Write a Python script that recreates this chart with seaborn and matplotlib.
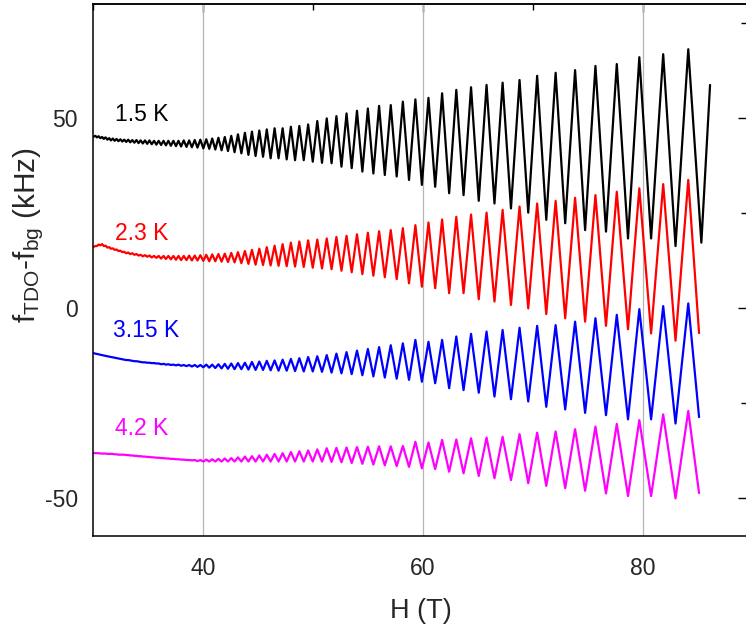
import matplotlib
matplotlib.use("Agg")
import matplotlib.pyplot as plt
from matplotlib.ticker import MultipleLocator
import pandas as pd
import seaborn as sns

# fields (T) of the oscillation minima / maxima, same phase for every trace
h_dips = [
    30.06, 30.36, 30.67, 30.98, 31.31, 31.63, 31.97, 32.31, 32.66, 33.02,
    33.38, 33.76, 34.14, 34.53, 34.93, 35.34, 35.76, 36.19, 36.63, 37.08,
    37.54, 38.01, 38.50, 38.99, 39.50, 40.03, 40.57, 41.12, 41.69, 42.27,
    42.87, 43.49, 44.13, 44.78, 45.46, 46.15, 46.87, 47.61, 48.37, 49.16,
    49.98, 50.82, 51.69, 52.59, 53.52, 54.49, 55.49, 56.53, 57.61, 58.73,
    59.90, 61.11, 62.38, 63.69, 65.07, 66.50, 68.00, 69.57, 71.21, 72.93,
    74.74, 76.64, 78.64, 80.74, 82.96,
]
h_peaks = [
    30.21, 30.51, 30.83, 31.14, 31.47, 31.80, 32.14, 32.49, 32.84, 33.20,
    33.57, 33.95, 34.33, 34.73, 35.13, 35.55, 35.97, 36.41, 36.85, 37.31,
    37.77, 38.25, 38.74, 39.25, 39.76, 40.30, 40.84, 41.40, 41.98, 42.57,
    43.18, 43.81, 44.45, 45.12, 45.80, 46.51, 47.24, 47.99, 48.76, 49.56,
    50.39, 51.25, 52.13, 53.05, 54.00, 54.99, 56.01, 57.07, 58.17, 59.31,
    60.50, 61.74, 63.03, 64.37, 65.78, 67.24, 68.78, 70.38, 72.06, 73.83,
    75.68, 77.62, 79.67, 81.84, 84.12,
]

temps = ["1.5 K", "2.3 K", "3.15 K", "4.2 K"]
colors = ["#000000", "#ff0000", "#0000ff", "#ff00ff"]

# 1.5 K
peaks_15 = [
    45.3, 45.2, 45.0, 44.9, 44.7, 44.6, 44.5, 44.4, 44.3, 44.3,
    44.2, 44.2, 44.1, 44.1, 44.1, 44.0, 44.0, 44.0, 44.0, 44.0,
    44.0, 44.1, 44.1, 44.2, 44.3, 44.4, 44.6, 44.8, 45.0, 45.3,
    45.7, 46.1, 46.4, 46.7, 47.0, 47.3, 47.3, 47.7, 47.9, 48.3,
    49.2, 49.9, 50.5, 51.2, 51.9, 52.5, 53.2, 53.4, 54.3, 54.9,
    55.3, 56.5, 57.4, 58.1, 58.7, 59.3, 60.0, 61.1, 61.9, 62.6,
    63.7, 64.2, 66.0, 66.8, 68.1,
]
dips_15 = [
    45.1, 44.9, 44.7, 44.5, 44.3, 44.1, 44.0, 43.9, 43.8, 43.7,
    43.6, 43.5, 43.4, 43.3, 43.2, 43.1, 43.0, 42.9, 42.8, 42.7,
    42.6, 42.5, 42.4, 42.3, 42.2, 42.0, 41.9, 41.7, 41.5, 41.3,
    41.0, 40.7, 40.3, 40.0, 39.8, 39.4, 39.4, 39.1, 38.9, 38.9,
    38.5, 38.2, 38.1, 37.2, 36.8, 35.9, 35.4, 35.0, 34.6, 33.7,
    32.4, 31.9, 30.2, 29.7, 28.2, 27.5, 26.2, 25.1, 23.2, 22.3,
    20.5, 20.1, 18.3, 18.3, 16.3,
]
tail_h_15 = [85.31, 86.1]
tail_f_15 = [17.2, 58.7]

# 2.3 K
peaks_23 = [
    16.3, 16.7, 16.8, 16.4, 16.0, 15.7, 15.4, 15.1, 14.8, 14.6,
    14.4, 14.2, 14.0, 13.9, 13.8, 13.7, 13.7, 13.7, 13.7, 13.7,
    13.7, 13.7, 13.8, 13.8, 13.9, 14.0, 14.1, 14.2, 14.3, 14.5,
    14.7, 15.0, 15.3, 15.6, 16.0, 16.4, 16.8, 17.2, 17.5, 17.8,
    18.0, 18.3, 18.7, 19.0, 19.4, 19.8, 20.2, 20.5, 21.0, 21.8,
    22.5, 23.3, 24.0, 24.6, 25.1, 25.8, 26.7, 27.5, 28.2, 29.0,
    29.7, 30.6, 31.5, 32.6, 33.7,
]
dips_23 = [
    16.1, 16.3, 16.5, 16.3, 15.9, 15.6, 15.3, 15.0, 14.7, 14.4,
    14.2, 14.0, 13.8, 13.6, 13.5, 13.3, 13.2, 13.0, 12.9, 12.8,
    12.7, 12.6, 12.6, 12.5, 12.5, 12.4, 12.3, 12.3, 12.2, 12.1,
    12.0, 11.8, 11.6, 11.4, 11.3, 11.2, 11.1, 11.0, 10.9, 10.8,
    10.6, 10.4, 10.2, 9.8, 9.4, 8.9, 8.5, 8.1, 7.6, 6.5,
    5.6, 5.2, 3.9, 3.9, 2.3, 1.7, 0.8, -0.1, -1.6, -2.7,
    -3.6, -4.7, -5.6, -6.7, -8.6,
]
tail_h_23 = [85.1]
tail_f_23 = [-6.6]

# 3.15 K
peaks_315 = [
    -12.0, -12.2, -12.4, -12.6, -12.8, -13.0, -13.2, -13.4, -13.6, -13.7,
    -13.9, -14.0, -14.2, -14.3, -14.4, -14.5, -14.6, -14.7, -14.8, -14.9,
    -14.9, -15.0, -15.0, -15.0, -15.0, -14.9, -14.9, -14.8, -14.7, -14.6,
    -14.5, -14.4, -14.2, -14.1, -13.9, -13.8, -13.6, -13.4, -13.2, -12.9,
    -12.7, -12.4, -12.0, -11.6, -11.2, -10.8, -10.3, -9.8, -9.3, -8.4,
    -8.9, -8.4, -7.5, -6.8, -6.2, -5.8, -5.2, -4.7, -4.5, -3.6,
    -2.7, -1.8, -0.3, 0.5, 1.2,
]
dips_315 = [
    -11.9, -12.1, -12.3, -12.5, -12.7, -12.9, -13.1, -13.3, -13.5, -13.7,
    -13.8, -14.0, -14.1, -14.3, -14.4, -14.5, -14.6, -14.8, -14.9, -15.0,
    -15.1, -15.2, -15.3, -15.4, -15.5, -15.6, -15.7, -15.8, -15.9, -16.0,
    -16.1, -16.1, -16.2, -16.3, -16.3, -16.4, -16.5, -16.5, -16.6, -16.7,
    -16.7, -16.8, -17.0, -17.2, -17.4, -17.7, -18.0, -18.3, -18.6, -18.9,
    -19.4, -19.8, -21.1, -21.6, -22.3, -23.3, -24.0, -24.6, -26.0, -26.7,
    -27.6, -28.2, -29.3, -29.3, -30.4,
]
tail_h_315 = [85.1]
tail_f_315 = [-28.7]

# 4.2 K
peaks_42 = [
    -38.2, -38.2, -38.3, -38.3, -38.4, -38.4, -38.5, -38.6, -38.6, -38.7,
    -38.8, -38.9, -39.0, -39.1, -39.2, -39.3, -39.4, -39.5, -39.6, -39.7,
    -39.8, -39.9, -40.0, -40.0, -40.0, -39.9, -39.8, -39.7, -39.6, -39.5,
    -39.3, -39.1, -39.0, -38.8, -38.6, -38.4, -38.2, -37.9, -37.7, -37.5,
    -37.2, -36.9, -36.8, -36.7, -36.6, -36.5, -36.4, -36.4, -36.3, -35.2,
    -35.4, -34.7, -34.6, -34.3, -34.1, -33.9, -33.2, -32.8, -32.5, -31.9,
    -31.2, -30.5, -29.5, -28.0, -27.1,
]
dips_42 = [
    -38.2, -38.2, -38.3, -38.3, -38.4, -38.4, -38.5, -38.6, -38.6, -38.7,
    -38.8, -38.9, -39.0, -39.1, -39.2, -39.3, -39.4, -39.5, -39.6, -39.7,
    -39.8, -39.9, -40.0, -40.1, -40.3, -40.4, -40.4, -40.4, -40.4, -40.4,
    -40.4, -40.4, -40.4, -40.4, -40.4, -40.4, -40.4, -40.4, -40.4, -40.4,
    -40.4, -40.4, -40.5, -40.6, -40.8, -41.0, -41.2, -41.4, -41.6, -41.8,
    -42.2, -42.4, -43.1, -43.5, -44.2, -44.8, -45.3, -46.1, -46.8, -47.4,
    -48.1, -48.8, -49.5, -49.5, -50.1,
]
tail_h_42 = [85.1]
tail_f_42 = [-48.7]

label_h = [32.0, 32.0, 31.8, 32.0]
label_f = [50.8, 19.7, -5.8, -31.6]


def trace(peaks, dips, tail_h, tail_f):
    h, f = [], []
    for hd, fd, hp, fp in zip(h_dips, dips, h_peaks, peaks):
        h += [hd, hp]
        f += [fd, fp]
    return h + tail_h, f + tail_f


curves = [
    (peaks_15, dips_15, tail_h_15, tail_f_15),
    (peaks_23, dips_23, tail_h_23, tail_f_23),
    (peaks_315, dips_315, tail_h_315, tail_f_315),
    (peaks_42, dips_42, tail_h_42, tail_f_42),
]
frames = []
for name, (pk, dp, th, tf) in zip(temps, curves):
    h, f = trace(pk, dp, th, tf)
    frames.append(pd.DataFrame({"H": h, "f": f, "T": name}))
df = pd.concat(frames, ignore_index=True)

sns.set_theme(style="white")
plt.rcParams["font.family"] = ["Liberation Sans", "DejaVu Sans"]
plt.rcParams["mathtext.default"] = "regular"
plt.rcParams["axes.unicode_minus"] = False

fig = plt.figure(figsize=(7.46, 6.26), dpi=100)
# right spine sits just past the image edge, as in the original
ax = fig.add_axes([93 / 746, 1 - 536 / 626, 655 / 746, 532 / 626])

ax.grid(axis="x", which="major", color="#b5b5b5", lw=0.9)
sns.lineplot(
    data=df, x="H", y="f", hue="T", palette=dict(zip(temps, colors)),
    sort=False, estimator=None, legend=False, lw=1.6, ax=ax,
)
for line in ax.get_lines():
    line.set_solid_joinstyle("round")
    line.set_solid_capstyle("round")

for name, c, x, y in zip(temps, colors, label_h, label_f):
    ax.text(x, y, name, color=c, fontsize=16.5, va="center", ha="left")

ax.set_xlim(30, 89.55)
ax.set_ylim(-60, 80)
ax.set_xticks([40, 60, 80])
ax.set_yticks([-50, 0, 50])
ax.xaxis.set_minor_locator(MultipleLocator(10))
ax.yaxis.set_minor_locator(MultipleLocator(25))
ax.tick_params(which="major", direction="out", length=6, width=1, labelsize=16.5, color="black")
ax.tick_params(which="minor", direction="out", length=4, width=1, color="black")
ax.tick_params(axis="x", which="major", pad=9)
ax.tick_params(axis="y", which="major", pad=5)
for sp in ax.spines.values():
    sp.set_color("black")
    sp.set_linewidth(1.1)

top = ax.secondary_xaxis("top")
top.set_xticks([40, 60, 80])
top.set_xticklabels([])
top.xaxis.set_minor_locator(MultipleLocator(10))
top.tick_params(which="major", direction="in", length=6, width=1, color="black")
top.tick_params(which="minor", direction="in", length=4, width=1, color="black")

right = ax.secondary_yaxis("right")
right.set_yticks([-50, 0, 50])
right.set_yticklabels([])
right.yaxis.set_minor_locator(MultipleLocator(25))
right.tick_params(which="major", direction="in", length=7, width=1, color="black")
right.tick_params(which="minor", direction="in", length=5, width=1, color="black")

ax.set_xlabel("H (T)", fontsize=19.5, labelpad=13)
ax.set_ylabel("f$_{TDO}$-f$_{bg}$ (kHz)", fontsize=21.5)
ax.yaxis.set_label_coords(-0.072, 0.565)

fig.savefig("out.png", dpi=100)
plt.close(fig)
